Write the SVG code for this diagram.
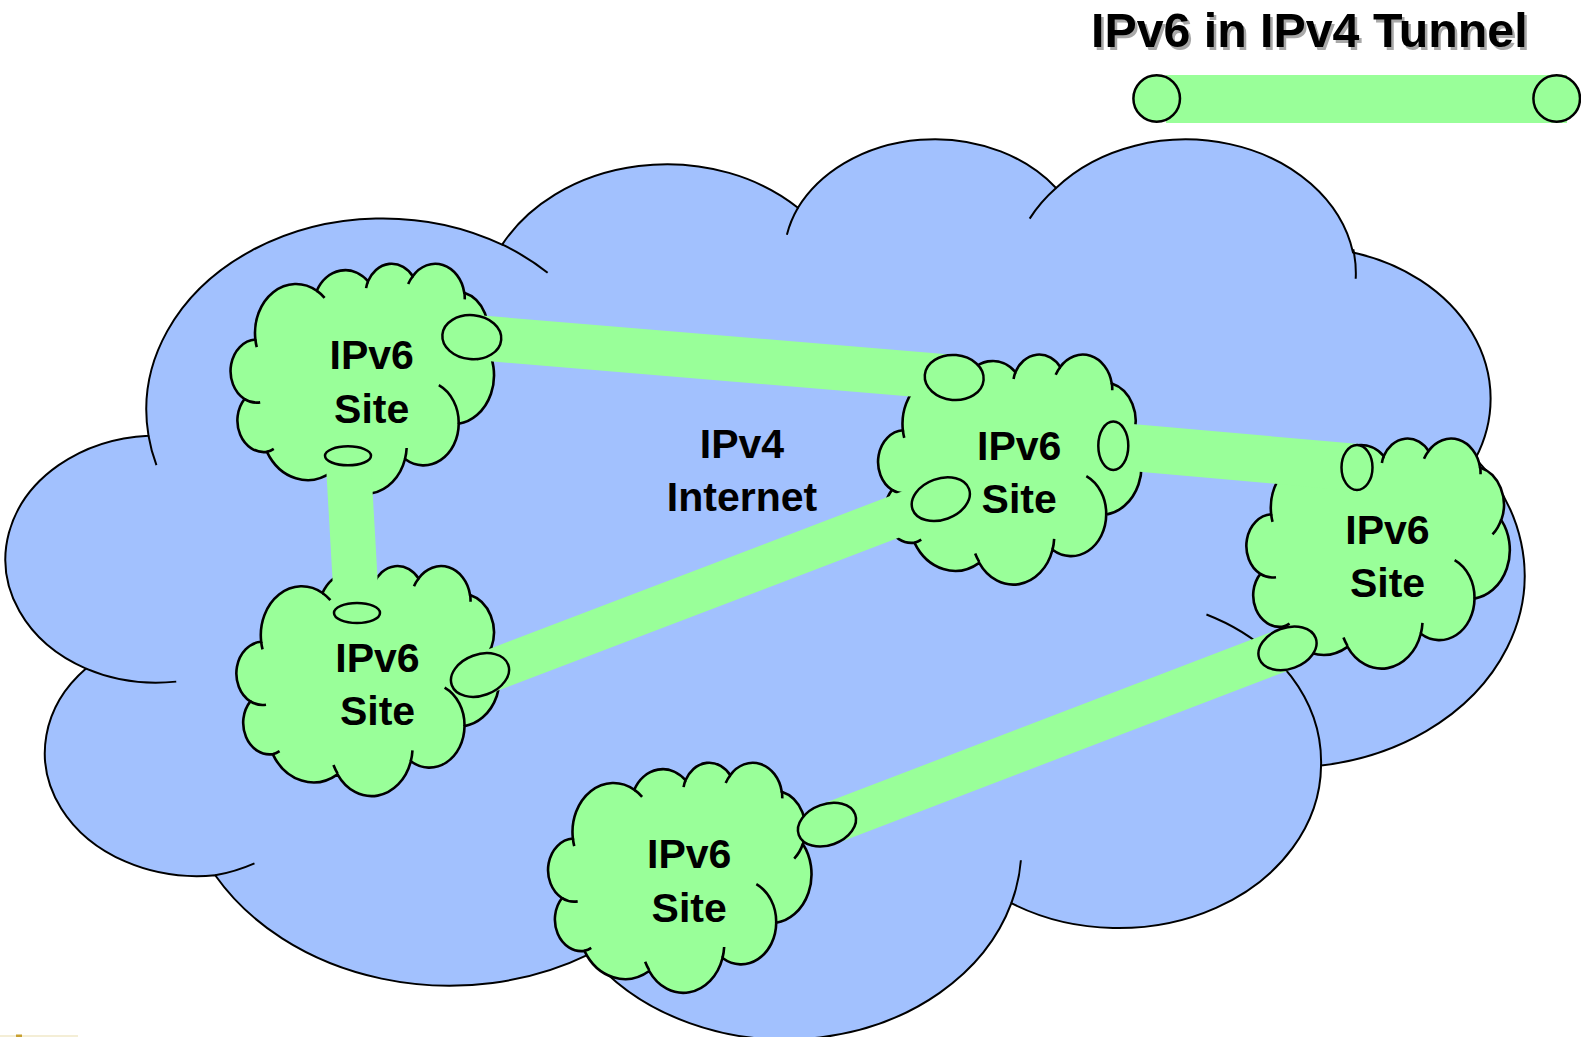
<svg xmlns="http://www.w3.org/2000/svg" xmlns:xlink="http://www.w3.org/1999/xlink" width="1581" height="1037" viewBox="0 0 1581 1037">
  <style>
    .lbl { font-family: "Liberation Sans", Arial, sans-serif; font-weight: bold; font-size: 41px; fill: #000; text-anchor: middle; }
    .title { font-family: "Liberation Sans", Arial, sans-serif; font-weight: bold; font-size: 48.3px; }
    .net-fill { fill: #A2C1FE; stroke: #000; stroke-width: 2; }
    .net-fold { fill: none; stroke: #000; stroke-width: 2; }
    .site-fill { fill: #99FF99; stroke: #000; stroke-width: 2.6; }
    .site-fold { fill: none; stroke: #000; stroke-width: 2.6; }
    .band { stroke: #99FF99; fill: none; stroke-linecap: butt; }
    .port { fill: #99FF99; stroke: #000; stroke-width: 2.5; }
  </style>
  <defs>
    <!-- cloud outline in a 43200 x 43200 unit box: eleven elliptical lobes -->
    <path id="cloud-body" vector-effect="non-scaling-stroke" d="M3900 14370 A6753 9190 0 0 1 14005 5201 A5333 7267 0 0 1 22457 3432 A4365 5945 0 0 1 29833 2479 A4857 6595 0 0 1 38317 5576 A5333 7273 0 0 1 41817 15459 A6775 9220 0 0 1 37404 30204 A5785 7867 0 0 1 28555 36814 A6752 9215 0 0 1 16481 39267 A7720 10543 0 0 1 5806 35474 A4360 5918 0 0 1 2115 25552 A4345 5945 0 0 1 3900 14370 Z"/>
    <!-- inner fold strokes continuing some lobes past their junctions -->
    <path id="cloud-folds" vector-effect="non-scaling-stroke" d="M4693 26177 A4345 5945 0 0 1 2115 25552 M6928 34899 A4360 5918 0 0 1 5806 35474 M16478 39090 A6752 9215 0 0 1 15812 37525 M28827 34751 A6752 9215 0 0 1 28555 36814 M34129 22954 A5785 7867 0 0 1 37404 30204 M41798 15354 A5333 7273 0 0 1 40370 18135 M38324 5426 A4857 6595 0 0 1 38394 6840 M29078 3952 A4857 6595 0 0 1 29833 2479 M22141 4720 A4365 5945 0 0 1 22457 3432 M14000 5192 A6753 9190 0 0 1 15305 6551 M4127 15789 A6753 9190 0 0 1 3900 14370"/>
  </defs>

  <rect width="1581" height="1037" fill="#FFFFFF"/>

  <!-- legend -->
  <g id="legend">
    <text class="title" x="1093.5" y="49.5" fill="#A8A8A8">IPv6 in IPv4 Tunnel</text>
    <text class="title" x="1091" y="47" fill="#000">IPv6 in IPv4 Tunnel</text>
    <rect x="1166" y="75" width="401" height="48" fill="#99FF99"/>
    <circle class="port" cx="1156.7" cy="98.5" r="23.3"/>
    <circle class="port" cx="1556.7" cy="98.5" r="23.3"/>
  </g>

  <!-- IPv4 Internet cloud -->
  <g id="ipv4-internet">
    <g transform="translate(12 136.3) scale(0.034998 0.020832)">
      <use xlink:href="#cloud-body" class="net-fill"/>
      <use xlink:href="#cloud-folds" class="net-fold"/>
    </g>
    <text class="lbl" x="742" y="458">IPv4</text>
    <text class="lbl" x="742" y="510.5">Internet</text>
  </g>

  <!-- IPv6 sites -->
  <g id="site-1">
    <g transform="translate(231.7 263) scale(0.0060694 0.0053241)">
      <use xlink:href="#cloud-body" class="site-fill"/>
      <use xlink:href="#cloud-folds" class="site-fold"/>
    </g>
    <text class="lbl" x="371.7" y="369.3">IPv6</text>
    <text class="lbl" x="371.7" y="422.6">Site</text>
  </g>
  <g id="site-2">
    <g transform="translate(237.5 565.3) scale(0.0060694 0.0053241)">
      <use xlink:href="#cloud-body" class="site-fill"/>
      <use xlink:href="#cloud-folds" class="site-fold"/>
    </g>
    <text class="lbl" x="377.5" y="671.5">IPv6</text>
    <text class="lbl" x="377.5" y="724.8">Site</text>
  </g>
  <g id="site-3">
    <g transform="translate(879.2 353.8) scale(0.0060694 0.0053241)">
      <use xlink:href="#cloud-body" class="site-fill"/>
      <use xlink:href="#cloud-folds" class="site-fold"/>
    </g>
    <text class="lbl" x="1019.2" y="460">IPv6</text>
    <text class="lbl" x="1019.2" y="513.3">Site</text>
  </g>
  <g id="site-4">
    <g transform="translate(1247.5 437.8) scale(0.0060694 0.0053241)">
      <use xlink:href="#cloud-body" class="site-fill"/>
      <use xlink:href="#cloud-folds" class="site-fold"/>
    </g>
    <text class="lbl" x="1387.5" y="544">IPv6</text>
    <text class="lbl" x="1387.5" y="597.3">Site</text>
  </g>
  <g id="site-5">
    <g transform="translate(549.2 762) scale(0.0060694 0.0053241)">
      <use xlink:href="#cloud-body" class="site-fill"/>
      <use xlink:href="#cloud-folds" class="site-fold"/>
    </g>
    <text class="lbl" x="689.2" y="868.3">IPv6</text>
    <text class="lbl" x="689.2" y="921.6">Site</text>
  </g>

  <!-- IPv6-in-IPv4 tunnels and their endpoints -->
  <g id="tunnels">
    <line class="band" x1="471.8" y1="337.2" x2="954.2" y2="377.5" stroke-width="45"/>
    <line class="band" x1="1113.3" y1="445.8" x2="1357" y2="467.5" stroke-width="47"/>
    <line class="band" x1="480" y1="675" x2="940.8" y2="499.2" stroke-width="42"/>
    <line class="band" x1="827" y1="824.7" x2="1287.5" y2="648.3" stroke-width="42"/>
    <line class="band" x1="348" y1="455.8" x2="357" y2="613" stroke-width="45"/>

    <ellipse class="port" cx="471.8" cy="337.2" rx="29.5" ry="22" transform="rotate(5 471.8 337.2)"/>
    <ellipse class="port" cx="348" cy="455.8" rx="23" ry="9.5"/>
    <ellipse class="port" cx="357" cy="613" rx="23" ry="10"/>
    <ellipse class="port" cx="480" cy="675" rx="30" ry="20.5" transform="rotate(-20 480 675)"/>
    <ellipse class="port" cx="954.2" cy="377.5" rx="29.5" ry="22.5" transform="rotate(5 954.2 377.5)"/>
    <ellipse class="port" cx="1113.3" cy="445.8" rx="15" ry="24.2"/>
    <ellipse class="port" cx="940.8" cy="499.2" rx="30" ry="20.5" transform="rotate(-20 940.8 499.2)"/>
    <ellipse class="port" cx="1357" cy="467.5" rx="15.5" ry="22.5"/>
    <ellipse class="port" cx="1287.5" cy="648.3" rx="30" ry="20.5" transform="rotate(-20 1287.5 648.3)"/>
    <ellipse class="port" cx="827" cy="824.7" rx="30" ry="20.5" transform="rotate(-20 827 824.7)"/>
  </g>

  <!-- trace of a cut-off mark at the lower left edge -->
  <rect x="0" y="1035" width="78" height="2" fill="#F4EED6"/>
  <rect x="16" y="1034.5" width="6" height="2.5" fill="#C8A030"/>
</svg>
